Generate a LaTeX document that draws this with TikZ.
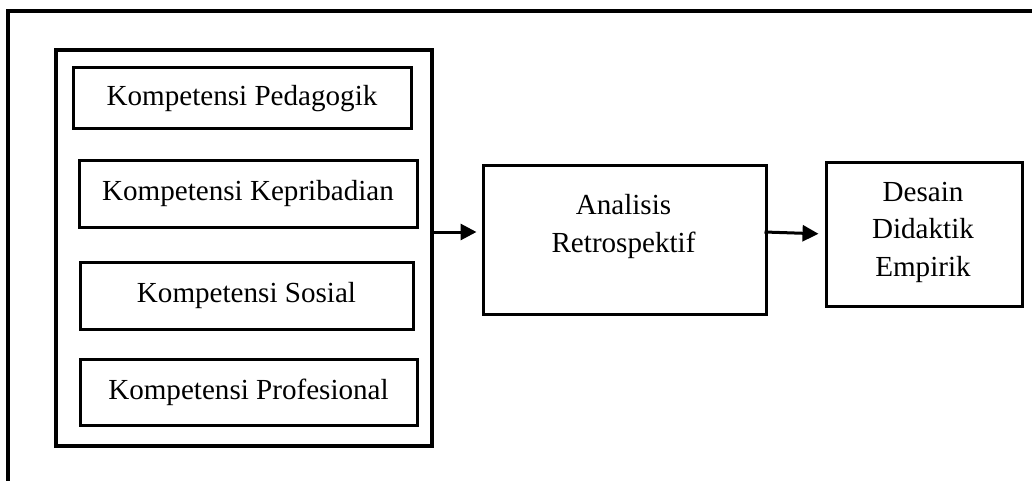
\documentclass[tikz,border=0pt]{standalone}
\usepackage{fontspec}
\setmainfont{Liberation Serif}
\usetikzlibrary{arrows.meta,calc}
\begin{document}
\begin{tikzpicture}[x=1pt,y=-1pt,
  frame/.style={line width=3.2pt},
  box/.style={draw,line width=3pt,rectangle,inner sep=0pt,font=\fontsize{29.1}{37.5}\selectfont,align=center},
  txt/.style={inner sep=0pt,font=\fontsize{29.1}{37.5}\selectfont,align=center},
  arr/.style={line width=3pt,-{Triangle[length=16pt,width=16pt]}}]
\useasboundingbox (0,0) rectangle (1032,481);
% outer partial frame
\coordinate (ftr) at (1032,11);
\coordinate (ftl) at (8,11);
\coordinate (fbl) at (8,481);
\draw[frame] (ftr) -- (ftl) -- (fbl);
% big group box
\node[box,line width=3.2pt,minimum width=376,minimum height=396] (grp) at (244,248) {};
% competence boxes
\node[box,minimum width=338,minimum height=61] (ped) at (242,98.5) {Kompetensi Pedagogik};
\node[box,minimum width=338,minimum height=66] (kep) at (248,194) {Kompetensi Kepribadian};
\node[box,minimum width=333,minimum height=67] (sos) at (246.5,295.5) {Kompetensi Sosial};
\node[box,minimum width=337,minimum height=66] (pro) at (248.5,392) {Kompetensi Profesional};
% analisis
\node[box,minimum width=283,minimum height=148] (ana) at (624.5,240) {};
\node[txt] (anat) at (623.5,226.7) {Analisis\\Retrospektif};
% desain
\node[box,minimum width=196,minimum height=143] (des) at (924,234.5) {};
\node[txt] (dest) at (923,232) {Desain\\Didaktik\\Empirik};
% arrows
\coordinate (a1s) at (grp.east |- 0,232);
\coordinate (a1e) at (ana.west |- 0,232);
\draw[arr,shorten >=5pt] (a1s) -- (a1e);
\coordinate (a2s) at ($(ana.east |- 0,232)+(-3,0)$);
\coordinate (a2e) at (des.west |- 0,234);
\draw[arr,shorten >=6pt] (a2s) -- (a2e);
\end{tikzpicture}
\end{document}
